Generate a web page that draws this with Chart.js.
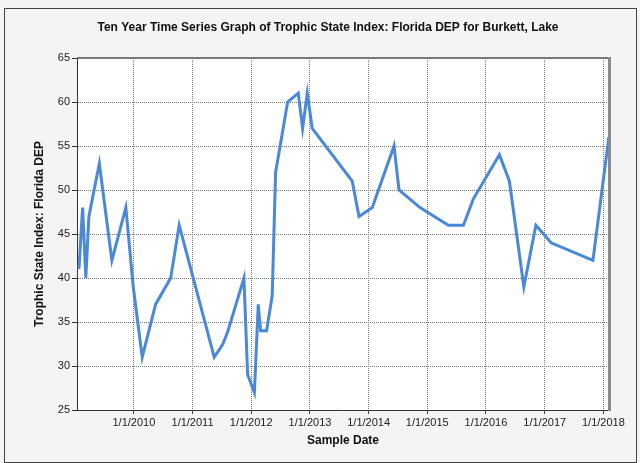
<!DOCTYPE html>
<html>
<head>
<meta charset="utf-8">
<script src="https://cdn.jsdelivr.net/npm/chart.js@4.4.0/dist/chart.umd.min.js"></script>
<style>
  html, body { margin: 0; padding: 0; background: #f4f4f4; }
  #c { display: block; }
</style>
</head>
<body>
<canvas id="c" width="640" height="463"></canvas>
<script>
// sample dates and TSI values
const sampleDates = [
  '2009-01-24', '2009-02-16', '2009-03-08', '2009-03-27', '2009-05-31', '2009-08-17',
  '2009-11-12', '2009-12-28', '2010-02-22', '2010-05-16', '2010-08-18', '2010-10-10',
  '2011-05-16', '2011-07-09', '2011-08-10', '2011-11-17', '2011-12-10', '2012-01-21',
  '2012-02-14', '2012-02-29', '2012-04-06', '2012-05-11', '2012-06-01', '2012-08-15',
  '2012-10-20', '2012-11-16', '2012-12-15', '2013-01-15', '2013-09-21', '2013-11-02',
  '2014-01-24', '2014-06-08', '2014-07-09', '2014-11-17', '2015-05-12', '2015-08-14',
  '2015-10-15', '2016-03-25', '2016-05-26', '2016-08-24', '2016-11-07', '2017-02-10',
  '2017-10-28', '2018-02-04'
];
const tsiValues = [
  41, 48, 40, 47, 53, 42,
  48, 39, 31, 37, 40, 46,
  31, 32.5, 34, 40, 29, 27,
  37, 34, 34, 38, 52, 60,
  61, 57, 61, 57, 51, 47,
  48, 55, 50, 48, 46, 46,
  49, 54, 51, 39, 46, 44,
  42, 56
];
const yearTicks = [2010, 2011, 2012, 2013, 2014, 2015, 2016, 2017, 2018];
const yTicks = [25, 30, 35, 40, 45, 50, 55, 60, 65];

const chartTitle = 'Ten Year Time Series Graph of Trophic State Index: Florida DEP for Burkett, Lake';
const xTitle = 'Sample Date';
const yTitle = 'Trophic State Index: Florida DEP';

const points = sampleDates.map((d, i) => ({ x: Date.parse(d), y: tsiValues[i] }));

const frame = {
  id: 'frame',
  beforeDraw(chart) {
    const { ctx, chartArea: a } = chart;
    ctx.save();
    ctx.fillStyle = '#f4f4f4';
    ctx.fillRect(0, 0, chart.width, chart.height);
    ctx.fillStyle = '#ffffff';
    ctx.fillRect(a.left, a.top, a.right - a.left, a.bottom - a.top);
    ctx.restore();
  },
  afterDraw(chart) {
    const { ctx, chartArea: a } = chart;
    ctx.save();
    // top and right edges of the plot
    ctx.strokeStyle = '#777';
    ctx.lineWidth = 2;
    ctx.beginPath();
    ctx.moveTo(a.left, a.top);
    ctx.lineTo(a.right, a.top);
    ctx.stroke();
    ctx.strokeStyle = '#8a8a8a';
    ctx.lineWidth = 3;
    ctx.beginPath();
    ctx.moveTo(a.right + 0.5, a.top - 1);
    ctx.lineTo(a.right + 0.5, a.bottom + 1);
    ctx.stroke();
    // outer box
    ctx.strokeStyle = '#444';
    ctx.lineWidth = 1;
    ctx.strokeRect(4.5, 8.5, 632, 454);

    ctx.fillStyle = '#111';
    ctx.textAlign = 'center';
    ctx.textBaseline = 'middle';
    ctx.font = 'bold 12px "Liberation Sans", Arial, sans-serif';
    ctx.fillText(chartTitle, 328, 28);
    ctx.fillText(xTitle, (a.left + a.right) / 2, 441);
    ctx.translate(40, (a.top + a.bottom) / 2);
    ctx.rotate(-Math.PI / 2);
    ctx.fillText(yTitle, 0, 0);
    ctx.restore();
  }
};

new Chart(document.getElementById('c'), {
  type: 'line',
  data: {
    datasets: [{
      data: points,
      borderColor: '#4a88d8',
      borderWidth: 3,
      pointRadius: 0,
      tension: 0,
      fill: false
    }]
  },
  options: {
    responsive: false,
    animation: false,
    layout: { padding: { left: 0, top: 58, right: 31, bottom: 0 } },
    plugins: { legend: { display: false }, tooltip: { enabled: false } },
    scales: {
      x: {
        type: 'linear',
        min: Date.parse('2009-01-12'),
        max: Date.parse('2018-02-05'),
        afterFit(s) { s.height = 53; },
        afterBuildTicks(s) {
          s.ticks = yearTicks.map((y) => ({ value: Date.UTC(y, 0, 1) }));
        },
        ticks: {
          autoSkip: false,
          maxRotation: 0,
          padding: 2,
          color: '#222',
          font: { family: '"Liberation Sans", Arial, sans-serif', size: 11 }
          ,callback: (v) => '1/1/' + new Date(v).getUTCFullYear()
        },
        grid: { color: '#7a7a7a', tickLength: 4, tickColor: '#444' },
        border: { color: '#333', width: 1, dash: [1, 1] }
      },
      y: {
        min: 25,
        max: 65,
        afterFit(s) { s.width = 77; },
        afterBuildTicks(s) {
          s.ticks = yTicks.map((v) => ({ value: v }));
        },
        ticks: {
          padding: 2,
          color: '#222',
          font: { family: '"Liberation Sans", Arial, sans-serif', size: 11 }
        },
        grid: { color: '#7a7a7a', tickLength: 5, tickColor: '#333' },
        border: { color: '#333', width: 1, dash: [1, 1] }
      }
    }
  },
  plugins: [frame]
});
</script>
</body>
</html>
